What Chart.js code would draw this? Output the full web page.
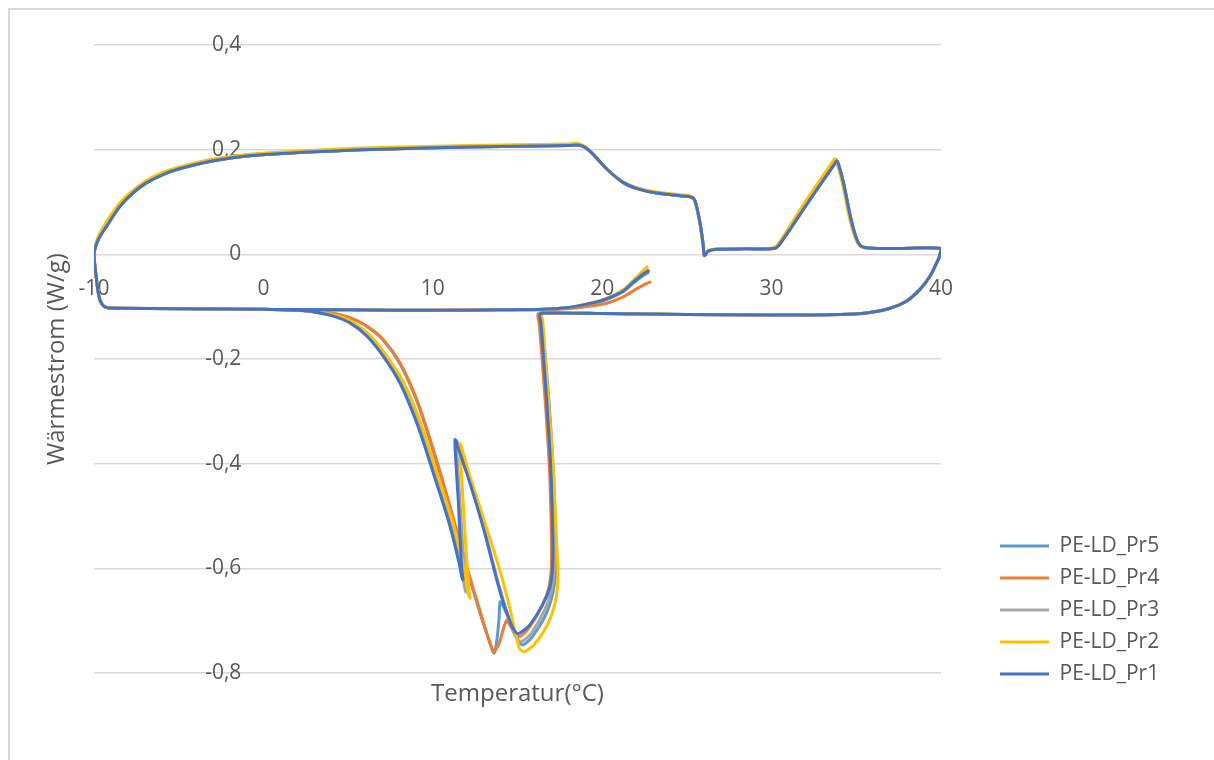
<!DOCTYPE html>
<html lang="de">
<head>
<meta charset="utf-8">
<title>Wärmestrom PE-LD</title>
<script src="https://cdn.jsdelivr.net/npm/chart.js@4/dist/chart.umd.min.js"></script>
<style>
  html, body { margin: 0; padding: 0; background: #ffffff; }
  #wrap { position: relative; width: 1214px; height: 760px; overflow: hidden; }
  #frame { position: absolute; left: 8px; top: 8px; width: 1400px; height: 900px;
           border-left: 2px solid #d9d9d9; border-top: 2px solid #d9d9d9; }
  #chart { position: absolute; left: 0; top: 0; }
</style>
</head>
<body>
<div id="wrap">
  <div id="frame"></div>
  <canvas id="chart" width="1214" height="760"></canvas>
</div>
<script>
// Achsen
const xTicks = [-10, 0, 10, 20, 30, 40];
const yTicks = [-0.8, -0.6, -0.4, -0.2, 0, 0.2, 0.4];
const xTitle = 'Temperatur(°C)';
const yTitle = 'Wärmestrom (W/g)';
const names = ['PE-LD_Pr1', 'PE-LD_Pr2', 'PE-LD_Pr3', 'PE-LD_Pr4', 'PE-LD_Pr5'];
const colors = ['#4472C4', '#FFC000', '#A5A5A5', '#ED7D31', '#5B9BD5'];

// [Temperatur °C, Wärmestrom W/g]
// 1. Abkühlen ab ca. 22,7 °C (Einschwingen)
const startPr1 = [[22.72,-0.032],[22.4,-0.038],[21.8,-0.054],[21.25,-0.07],[20.5,-0.082],[19.9,-0.089],[18.8,-0.097],[17.9,-0.102],[16.5,-0.105]];
const startPr2 = [[22.66,-0.024],[22.35,-0.033],[21.8,-0.051],[21.25,-0.067],[20.5,-0.081],[19.9,-0.088],[18.8,-0.097],[17.9,-0.102],[16.5,-0.105]];
const startPr3 = [[22.7,-0.03],[22.4,-0.037],[21.8,-0.053],[21.25,-0.069],[20.5,-0.082],[19.9,-0.089],[18.8,-0.097],[17.9,-0.102],[16.5,-0.105]];
const startPr4 = [[22.82,-0.053],[22.6,-0.056],[22.03,-0.066],[21.25,-0.081],[20.5,-0.091],[19.9,-0.096],[18.8,-0.101],[17.9,-0.104],[16.5,-0.106]];
const startPr5 = [[22.7,-0.035],[22.4,-0.041],[21.8,-0.056],[21.25,-0.071],[20.5,-0.083],[19.9,-0.09],[18.8,-0.098],[17.9,-0.102],[16.5,-0.105]];

// Grundlinie beim Abkühlen bis -10 °C
const lowBase = [[14,-0.106],[10,-0.107],[5,-0.106],[0,-0.105],[-5,-0.104],[-8.5,-0.103],[-9.21,-0.102],[-9.51,-0.096],[-9.71,-0.08],[-9.9,-0.035]];

// 2. Aufheizen -10 → 40 °C
const heatPr1 = [[-10,0],[-9.75,0.028],[-9.25,0.054],[-8.46,0.092],[-7.68,0.118],[-6.89,0.137],[-5.9,0.153],[-4.92,0.164],[-2.96,0.179],[-0.99,0.188],[2.95,0.196],[6.88,0.201],[12,0.205],[16,0.207],[18,0.208],[18.6,0.209],[19.0,0.204],[19.47,0.191],[20.27,0.163],[21.25,0.137],[22.23,0.124],[23.2,0.117],[24.59,0.112],[25.28,0.109],[25.48,0.102],[25.77,0.061],[25.97,0.016],[26.03,-0.002],[26.26,0.006],[26.76,0.0096],[28.5,0.0105],[30.1,0.011],[30.4,0.016],[32.1,0.097],[33.7,0.172],[33.85,0.179],[33.95,0.172],[34.24,0.137],[34.73,0.061],[35.12,0.022],[35.5,0.013],[37,0.011],[40,0.011]];
const heatPr2 = [[-10,0],[-9.78,0.032],[-9.3,0.06],[-8.5,0.097],[-7.7,0.122],[-6.9,0.141],[-5.9,0.157],[-4.92,0.167],[-2.96,0.182],[-0.99,0.191],[2.95,0.199],[6.88,0.204],[12,0.208],[16,0.21],[18,0.211],[18.55,0.212],[18.95,0.207],[19.42,0.193],[20.22,0.165],[21.2,0.139],[22.2,0.126],[23.2,0.119],[24.59,0.114],[25.25,0.111],[25.45,0.103],[25.75,0.061],[25.95,0.016],[26.02,-0.001],[26.25,0.007],[26.76,0.0105],[28.5,0.011],[30.05,0.012],[30.35,0.018],[32.0,0.101],[33.6,0.177],[33.74,0.183],[33.85,0.176],[34.17,0.137],[34.66,0.061],[35.07,0.022],[35.45,0.013],[37,0.011],[40,0.011]];

// 3. Abkühlen ab 40 °C bis zur Kristallisation
const coolHot = [[39.9,-0.005],[39.75,-0.016],[39.35,-0.042],[38.76,-0.067],[37.98,-0.089],[36.99,-0.103],[35.6,-0.112],[34.04,-0.115],[30,-0.116],[25,-0.115],[20,-0.113],[17,-0.112]];

// Kristallisationspeaks
const dipPr1 = [[16.33,-0.114],[16.38,-0.13],[16.43,-0.15],[16.72,-0.278],[16.96,-0.405],[17.08,-0.533],[17.07,-0.597],[16.92,-0.635],[16.52,-0.667],[15.73,-0.708],[15.2,-0.722],[14.95,-0.724],[14.6,-0.705],[13.97,-0.645],[13.0,-0.525],[12.2,-0.438],[11.55,-0.375],[11.38,-0.358],[11.31,-0.354],[11.33,-0.38],[11.5,-0.469],[11.7,-0.597],[11.78,-0.622],[11.7,-0.615],[11.6,-0.597],[11.02,-0.52],[10.03,-0.418],[9.05,-0.322],[8.06,-0.246],[7.08,-0.195],[6.1,-0.156],[5.11,-0.131],[4.13,-0.118],[3.0,-0.110],[2.0,-0.107]];
const dipPr2 = [[16.45,-0.114],[16.5,-0.13],[16.6,-0.18],[16.85,-0.29],[17.1,-0.4],[17.28,-0.533],[17.38,-0.6],[17.36,-0.635],[17.15,-0.675],[16.7,-0.712],[16.0,-0.745],[15.5,-0.758],[15.34,-0.759],[15.1,-0.752],[14.5,-0.67],[13.97,-0.605],[13.0,-0.505],[12.2,-0.425],[11.8,-0.38],[11.65,-0.364],[11.6,-0.362],[11.63,-0.39],[11.75,-0.45],[11.95,-0.56],[12.15,-0.648],[12.2,-0.657],[12.13,-0.652],[12.0,-0.63],[11.85,-0.6],[11.25,-0.52],[10.25,-0.418],[9.28,-0.322],[8.3,-0.246],[7.3,-0.195],[6.3,-0.155],[5.3,-0.13],[4.3,-0.117],[3.1,-0.11],[2.0,-0.107]];
const dipPr3 = [[16.38,-0.114],[16.43,-0.13],[16.5,-0.15],[16.8,-0.278],[17.05,-0.405],[17.18,-0.533],[17.18,-0.597],[17.02,-0.64],[16.6,-0.68],[15.8,-0.725],[15.35,-0.738],[15.15,-0.74],[14.8,-0.725],[13.97,-0.64],[13.0,-0.52],[12.2,-0.435],[11.62,-0.375],[11.46,-0.36],[11.4,-0.356],[11.42,-0.38],[11.6,-0.47],[11.85,-0.6],[11.95,-0.645],[11.87,-0.635],[11.72,-0.6],[11.14,-0.52],[10.15,-0.418],[9.17,-0.322],[8.18,-0.246],[7.2,-0.195],[6.2,-0.156],[5.2,-0.131],[4.2,-0.118],[3.0,-0.11],[2.0,-0.107]];
const dipPr4 = [[16.22,-0.114],[16.27,-0.13],[16.33,-0.15],[16.63,-0.278],[16.88,-0.405],[17.0,-0.533],[17.0,-0.597],[16.85,-0.637],[16.45,-0.672],[15.7,-0.713],[15.25,-0.728],[15.05,-0.73],[14.75,-0.72],[14.45,-0.703],[14.36,-0.699],[14.2,-0.712],[13.9,-0.745],[13.68,-0.757],[13.57,-0.759],[13.4,-0.745],[13.0,-0.705],[12.59,-0.66],[12.0,-0.597],[11.02,-0.482],[10.03,-0.373],[9.05,-0.277],[8.06,-0.207],[7.08,-0.163],[6.1,-0.137],[5.11,-0.121],[4.13,-0.113],[3.0,-0.108],[2.0,-0.107]];
const dipPr5 = [[16.4,-0.114],[16.45,-0.13],[16.52,-0.15],[16.85,-0.278],[17.1,-0.405],[17.25,-0.533],[17.27,-0.597],[17.1,-0.645],[16.65,-0.69],[15.85,-0.732],[15.45,-0.744],[15.25,-0.746],[14.9,-0.728],[14.4,-0.69],[14.05,-0.666],[13.97,-0.664],[13.9,-0.7],[13.75,-0.745],[13.62,-0.762],[13.45,-0.75],[13.0,-0.707],[12.55,-0.66],[11.97,-0.597],[10.99,-0.482],[10.0,-0.373],[9.02,-0.277],[8.03,-0.207],[7.05,-0.163],[6.07,-0.137],[5.08,-0.121],[4.1,-0.113],[3.0,-0.108],[2.0,-0.107]];

// Ende der Abkühlung bei -10 °C
const lowTail = [[0,-0.105],[-5,-0.104],[-8.5,-0.103],[-9.21,-0.102]];

const runs = [
  [startPr1, heatPr1, dipPr1],
  [startPr2, heatPr2, dipPr2],
  [startPr3, heatPr1, dipPr3],
  [startPr4, heatPr1, dipPr4],
  [startPr5, heatPr1, dipPr5]
];

const datasets = runs.map(([start, heat, dip], i) => ({
  label: names[i],
  data: [...start, ...lowBase, ...heat, ...coolHot, ...dip, ...lowTail],
  borderColor: colors[i],
  backgroundColor: colors[i],
  borderWidth: 3,
  borderJoinStyle: 'round',
  borderCapStyle: 'round',
  pointRadius: 0,
  pointHoverRadius: 0,
  showLine: true,
  tension: 0.3
}));

const textColor = '#595959';
const fontFamily = '"Open Sans", "Liberation Sans", sans-serif';

// Legende rechts unten neben dem Diagramm
const legendSpot = { left: 1000, top: 535.5 };
const legendPlacement = {
  id: 'legendPlacement',
  afterLayout(chart) {
    const lg = chart.legend;
    if (!lg) return;
    const pad = lg.options.labels.padding;
    const w = lg.width;
    lg.left = legendSpot.left - pad;
    lg.right = lg.left + w;
    lg.top = legendSpot.top - pad;
    lg.bottom = chart.height;
    lg.height = lg.bottom - lg.top;
  }
};

new Chart(document.getElementById('chart'), {
  type: 'scatter',
  data: { datasets },
  plugins: [legendPlacement],
  options: {
    responsive: false,
    animation: false,
    devicePixelRatio: 1,
    layout: { padding: { left: 8, top: 45, right: 273, bottom: 51.6 } },
    scales: {
      x: {
        type: 'linear',
        min: -10, max: 40,
        position: { y: 0 },
        afterFit(scale) { scale.height = 0; },
        afterBuildTicks(scale) { scale.ticks = xTicks.map(v => ({ value: v })); },
        grid: { display: false, drawTicks: false },
        border: { display: false },
        ticks: {
          padding: 22,
          color: textColor,
          font: { family: fontFamily, size: 21 },
          maxRotation: 0,
          autoSkip: false,
          callback: v => String(v)
        }
      },
      y: {
        type: 'linear',
        min: -0.8, max: 0.4,
        // value labels sit just left of the 0 °C line
        position: { x: -1.3 },
        afterFit(scale) { scale.width = 0; },
        afterBuildTicks(scale) { scale.ticks = yTicks.map(v => ({ value: v })); },
        grid: { color: '#d9d9d9', lineWidth: 1.5, drawTicks: false },
        border: { display: false },
        ticks: {
          padding: 0,
          color: textColor,
          font: { family: fontFamily, size: 21 },
          autoSkip: false,
          callback: v => (v === 0 ? '0' : String(v).replace('.', ','))
        }
      }
    },
    plugins: {
      legend: {
        position: 'chartArea',
        align: 'start',
        reverse: true,
        labels: {
          usePointStyle: true,
          pointStyle: 'line',
          pointStyleWidth: 49,
          padding: 11,
          color: textColor,
          font: { family: fontFamily, size: 21 }
        }
      },
      title: {
        display: true,
        text: xTitle,
        position: 'bottom',
        fullSize: false,
        color: textColor,
        font: { family: fontFamily, size: 24, weight: 'normal' },
        padding: { top: 6.6, bottom: 0 }
      },
      subtitle: {
        display: true,
        text: yTitle,
        position: 'left',
        fullSize: false,
        color: textColor,
        font: { family: fontFamily, size: 24, weight: 'normal' },
        padding: { top: 35, bottom: 22.2 }
      },
      tooltip: { enabled: false }
    }
  }
});
</script>
</body>
</html>
